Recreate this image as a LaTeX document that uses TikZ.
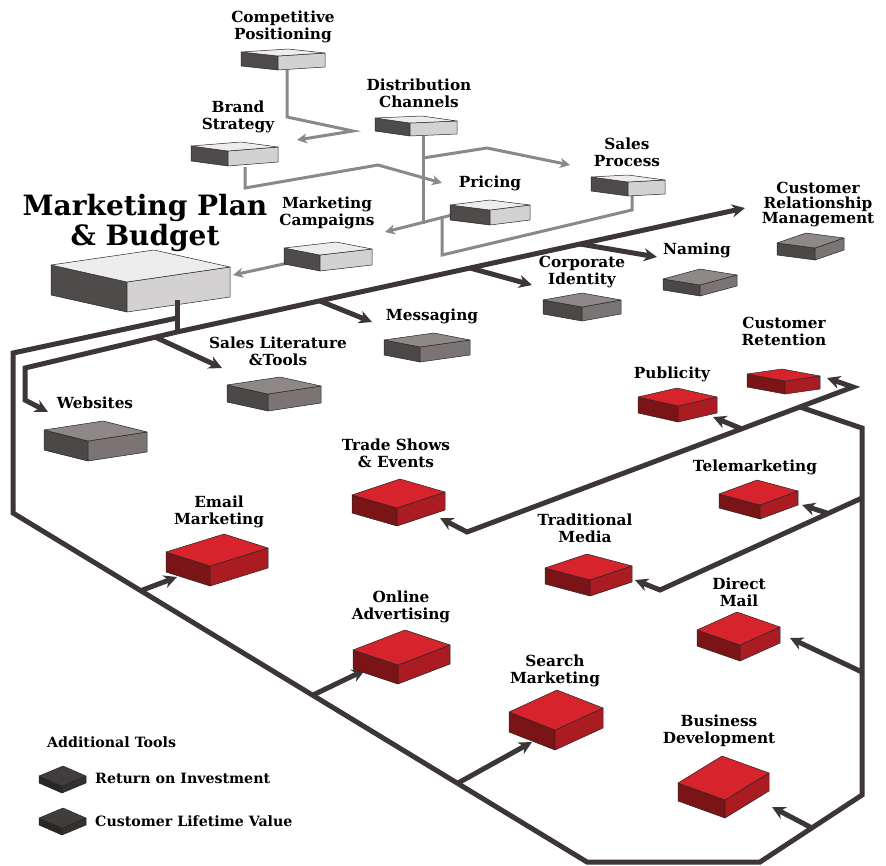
\documentclass[tikz,border=0pt]{standalone}
\usepackage{fontspec}
\setmainfont{DejaVu Serif}
\usetikzlibrary{calc,arrows.meta}

\definecolor{lighttop}{HTML}{EDEDED}
\definecolor{lightleft}{HTML}{4F4B4B}
\definecolor{lightright}{HTML}{D3D1D1}
\definecolor{greytop}{HTML}{8E8888}
\definecolor{greyleft}{HTML}{4D4848}
\definecolor{greyright}{HTML}{7A7474}
\definecolor{redtop}{HTML}{D7232B}
\definecolor{redleft}{HTML}{7A1417}
\definecolor{redright}{HTML}{AA1C22}
\definecolor{darktop}{HTML}{423D3D}
\definecolor{darkleft}{HTML}{2A2626}
\definecolor{darkright}{HTML}{353030}
\definecolor{wire}{HTML}{3D3636}
\definecolor{thinwire}{HTML}{8A8888}

% slab: left corner, front corner, right corner, height, colour set
\newcommand{\slab}[5]{%
  \filldraw[fill=#5left, draw=black!85, line width=0.5pt, line join=round]
    (#1) -- (#2) -- ($(#2)+(0,#4)$) -- ($(#1)+(0,#4)$) -- cycle;
  \filldraw[fill=#5right, draw=black!85, line width=0.5pt, line join=round]
    (#2) -- (#3) -- ($(#3)+(0,#4)$) -- ($(#2)+(0,#4)$) -- cycle;
  \filldraw[fill=#5top, draw=black!85, line width=0.5pt, line join=round]
    (#1) -- ($(#1)+(#3)-(#2)$) -- (#3) -- (#2) -- cycle;
}

\begin{document}
\begin{tikzpicture}[x=1pt, y=-1pt,
    lbl/.style={font=\fontsize{15.3}{17}\selectfont\bfseries, align=center, inner sep=0pt},
    biglbl/.style={font=\fontsize{28}{30}\selectfont\bfseries, align=center, inner sep=0pt},
    legendlbl/.style={font=\fontsize{14.2}{15}\selectfont\bfseries, anchor=west, inner sep=0pt},
    thin/.style={draw=thinwire, line width=3pt, -{Stealth[length=10pt,width=10pt,inset=3pt]}},
    thick/.style={draw=wire, line width=5pt, -{Stealth[length=13pt,width=13pt,inset=4pt]}},
    plain/.style={draw=wire, line width=5pt}]
  \useasboundingbox (0,0) rectangle (886,865);

  % labels
  \node[lbl] (comppos) at (283,27) {Competitive\\Positioning};
  \node[lbl] (distch) at (419,93) {Distribution\\Channels};
  \node[lbl] (brand) at (238,117) {Brand\\Strategy};
  \node[lbl] (salesproc) at (627,152) {Sales\\Process};
  \node[lbl] (pricing) at (490,183) {Pricing};
  \node[biglbl] (plan) at (145,223) {Marketing Plan\\\& Budget};
  \node[lbl] (campaigns) at (327,213) {Marketing\\Campaigns};
  \node[lbl, font=\fontsize{15.3}{15}\selectfont\bfseries] (crm) at (818,205) {Customer\\Relationship\\Management};
  \node[lbl] (naming) at (697,250) {Naming};
  \node[lbl] (corpid) at (582,272) {Corporate\\Identity};
  \node[lbl] (messaging) at (432,316) {Messaging};
  \node[lbl] (saleslit) at (278,351) {Sales Literature\\\&Tools};
  \node[lbl] (retention) at (784,331) {Customer\\Retention};
  \node[lbl] (publicity) at (672,374) {Publicity};
  \node[lbl] (websites) at (95,403) {Websites};
  \node[lbl] (tradeshows) at (396,453) {Trade Shows\\\& Events};
  \node[lbl] (telemarketing) at (755,467) {Telemarketing};
  \node[lbl] (email) at (219,512) {Email\\Marketing};
  \node[lbl] (tradmedia) at (585,528) {Traditional\\Media};
  \node[lbl] (directmail) at (739,592) {Direct\\Mail};
  \node[lbl] (online) at (401,607) {Online\\Advertising};
  \node[lbl] (search) at (555,671) {Search\\Marketing};
  \node[lbl] (bizdev) at (719,731) {Business\\Development};
  \node[legendlbl] (addtools) at (47,742) {Additional Tools};
  \node[legendlbl] (roi) at (95,778) {Return on Investment};
  \node[legendlbl] (clv) at (95,821) {Customer Lifetime Value};

  % thin grey connectors
  \draw[thin] (287,70) -- (287,117) -- (353,131) -- (297,140);
  \draw[thin] (245,167) -- (245,188) -- (378,165) -- (442,183);
  \draw[thin, -] (423,136) -- (423,224);
  \draw[thin] (423,158) -- (487,148) -- (570,165);
  \draw[thin, -] (632,195) -- (632,210) -- (442,255) -- (442,216);
  \draw[thin] (456,214) -- (385,232);
  \draw[thin] (302,260) -- (233,275);

  % top boxes
  \slab{241,52}{278,56}{325,53}{14}{light}
  \slab{375,118}{410,123}{457,121}{13}{light}
  \slab{191,146}{228,151}{278,147}{15}{light}
  \slab{591,177}{628,182}{665,180}{14}{light}
  \slab{450,205}{490,210}{530,205}{15}{light}
  \slab{284,248}{320,255}{372,249}{16}{light}
  \slab{51,265}{127,282}{230,267}{30}{light}

  % thick dark connectors
  \coordinate (hub) at (177,332);
  \draw[plain] (177,318) -- (13,353) -- (13,513) -- (587,862) -- (760,862)
    -- (862,795) -- (862,428) -- (800,407);
  \draw[plain] (177,300) -- (hub);
  \draw[thick] (hub) -- (745,208);
  \draw[thick] (hub) -- (25,368) -- (25,400) -- (48,412);
  \draw[thick] (155,337) -- (222,368);
  \draw[thick] (320,301) -- (372,322);
  \draw[thick] (470,268) -- (532,285);
  \draw[thick] (580,244) -- (657,257);
  \draw[draw=wire, line width=5pt, {Stealth[length=13pt,width=13pt,inset=4pt]}-{Stealth[length=13pt,width=13pt,inset=4pt]}]
    (440,518) -- (467,532) -- (853,387) -- (827,378);
  \draw[thick] (742,429) -- (713,417);
  \draw[thick] (862,498) -- (660,590) -- (635,580);
  \draw[thick] (827,513) -- (802,505);
  \draw[thick] (862,672) -- (790,638);
  \draw[thick] (812,828) -- (772,807);
  \draw[thick] (140,591) -- (177,577);
  \draw[thick] (313,695) -- (365,670);
  \draw[thick] (458,783) -- (532,742);

  % grey boxes
  \slab{777,243}{815,248}{844,238}{12}{grey}
  \slab{663,279}{700,285}{737,275}{11}{grey}
  \slab{543,300}{582,307}{621,300}{14}{grey}
  \slab{384,340}{420,347}{470,340}{15}{grey}
  \slab{227,385}{268,394}{321,386}{17}{grey}
  \slab{44,430}{88,441}{147,432}{20}{grey}

  % red boxes
  \slab{747,374}{785,381}{820,376}{13}{red}
  \slab{638,397}{678,406}{717,397}{16}{red}
  \slab{719,494}{760,505}{798,491}{14}{red}
  \slab{352,495}{397,508}{445,492}{18}{red}
  \slab{545,568}{590,580}{632,566}{16}{red}
  \slab{166,552}{210,566}{268,548}{20}{red}
  \slab{353,650}{398,665}{450,645}{19}{red}
  \slab{697,630}{740,645}{780,627}{16}{red}
  \slab{509,712}{555,730}{603,708}{20}{red}
  \slab{678,783}{725,800}{769,773}{18}{red}

  % legend
  \slab{39,776}{62,786}{86,776}{7}{dark}
  \slab{39,818}{62,828}{86,818}{7}{dark}
\end{tikzpicture}
\end{document}
